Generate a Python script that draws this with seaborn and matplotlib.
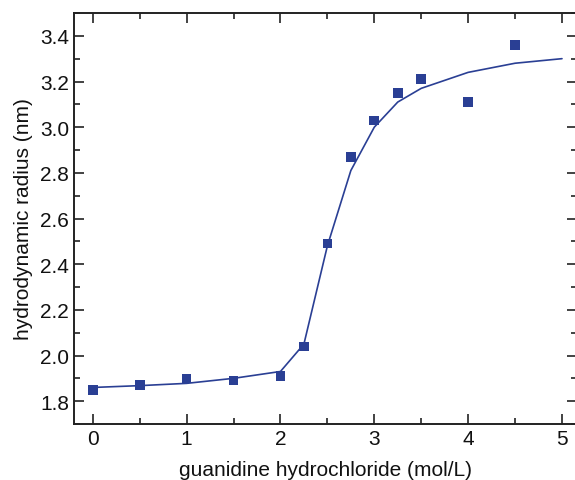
import matplotlib
matplotlib.use("Agg")
import matplotlib.pyplot as plt
import seaborn as sns
import pandas as pd
from matplotlib.ticker import MultipleLocator

conc = [0, 0.5, 1, 1.5, 2, 2.25, 2.5, 2.75, 3, 3.25, 3.5, 4, 4.5]
radius = [1.85, 1.87, 1.90, 1.89, 1.91, 2.04, 2.49, 2.87, 3.03, 3.15, 3.21, 3.11, 3.36]
fit_x = [0, 0.5, 1, 1.5, 2, 2.25, 2.5, 2.75, 3, 3.25, 3.5, 4, 4.5, 5]
fit_y = [1.86, 1.868, 1.878, 1.90, 1.93, 2.05, 2.48, 2.81, 3.00, 3.11, 3.17, 3.24, 3.28, 3.30]

sns.set_style("ticks")
plt.rcParams['font.family'] = ['Liberation Sans', 'DejaVu Sans']

color = "#2a3f94"
fig = plt.figure(figsize=(5.75, 4.81), dpi=100)
ax = fig.add_axes([74/575, 56/481, (577 - 74)/575, (425 - 14)/481])

df = pd.DataFrame({"x": conc, "y": radius})
fit = pd.DataFrame({"x": fit_x, "y": fit_y})
sns.lineplot(data=fit, x="x", y="y", ax=ax, color=color, lw=1.2)
sns.scatterplot(data=df, x="x", y="y", ax=ax, marker="s", s=48, color=color,
                edgecolor="none", zorder=3)

ax.set_xlim(-0.2, 5.16)
ax.set_ylim(1.7, 3.5)
ax.xaxis.set_major_locator(MultipleLocator(1))
ax.xaxis.set_minor_locator(MultipleLocator(0.5))
ax.yaxis.set_minor_locator(MultipleLocator(0.1))
ax.set_yticks([1.8, 2.0, 2.2, 2.4, 2.6, 2.8, 3.0, 3.2, 3.4])
ax.set_yticklabels(["1.8", "2.0", "2.2", "2.4", "2.6", "2.8", "3.0", "3.2", "3.4"])
ax.tick_params(which="both", direction="in", top=True, right=True, width=1.2,
               labelsize=15, color="#222222", labelcolor="#111111")
ax.tick_params(which="major", length=7)
ax.tick_params(which="minor", length=4)
for s in ax.spines.values():
    s.set_linewidth(1.4)
    s.set_color("#222222")
ax.set_xlabel("guanidine hydrochloride (mol/L)", fontsize=15, labelpad=9, color="#111111")
ax.set_ylabel("hydrodynamic radius (nm)", fontsize=15, labelpad=5, color="#111111")

fig.savefig("out.png", dpi=100)
